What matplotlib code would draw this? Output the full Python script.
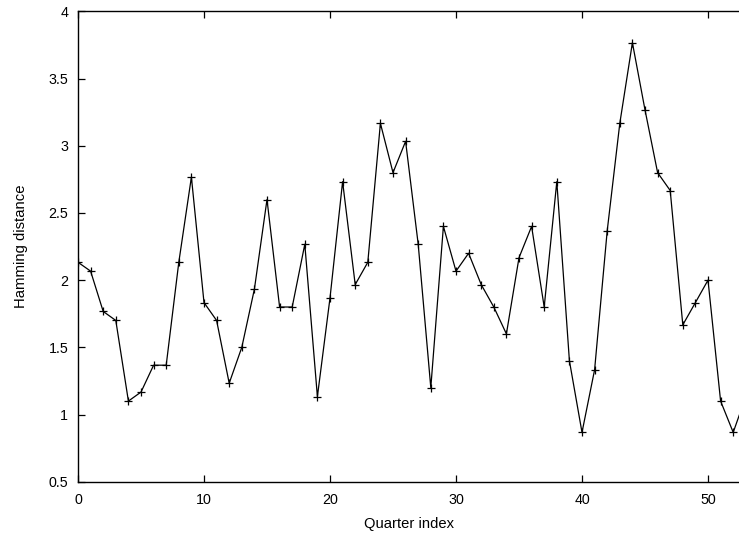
import numpy as np
import matplotlib.pyplot as plt

plt.rcParams['font.family'] = ['Liberation Sans', 'DejaVu Sans']

quarter = np.arange(54)
hamming = [2.133, 2.067, 1.767, 1.7, 1.1, 1.167, 1.367, 1.367, 2.133, 2.767,
           1.833, 1.7, 1.233, 1.5, 1.933, 2.6, 1.8, 1.8, 2.267, 1.133,
           1.867, 2.733, 1.967, 2.133, 3.167, 2.8, 3.033, 2.267, 1.2, 2.4,
           2.067, 2.2, 1.967, 1.8, 1.6, 2.167, 2.4, 1.8, 2.733, 1.4,
           0.867, 1.333, 2.367, 3.167, 3.767, 3.267, 2.8, 2.667, 1.667, 1.833,
           2.0, 1.1, 0.867, 1.133]
xticks = [0, 10, 20, 30, 40, 50]
yticks = [0.5, 1, 1.5, 2, 2.5, 3, 3.5, 4]

fig = plt.figure(figsize=(7.39, 5.33), dpi=100)
ax = fig.add_axes([78 / 739, 51.3 / 533, 661 / 739, 470.3 / 533])

ax.plot(quarter, hamming, color='black', lw=0.9, marker='+',
        markersize=6, markeredgewidth=0.9)

ax.set_xlim(0, 52.46)
ax.set_ylim(0.5, 4)
ax.set_xticks(xticks)
ax.set_yticks(yticks)
ax.set_yticklabels(['0.5', '1', '1.5', '2', '2.5', '3', '3.5', '4'])
ax.tick_params(direction='in', length=5, width=0.9, top=True, right=False,
               labelsize=10.3, colors='black')
ax.tick_params(axis='x', pad=8)
ax.tick_params(axis='y', pad=7)
ax.spines['right'].set_visible(False)
for s in ['left', 'top', 'bottom']:
    ax.spines[s].set_linewidth(1.0)

ax.set_xlabel('Quarter index', fontsize=10.6, labelpad=7)
ax.set_ylabel('Hamming distance', fontsize=10.7, labelpad=15)

fig.savefig('out.png', dpi=100)
